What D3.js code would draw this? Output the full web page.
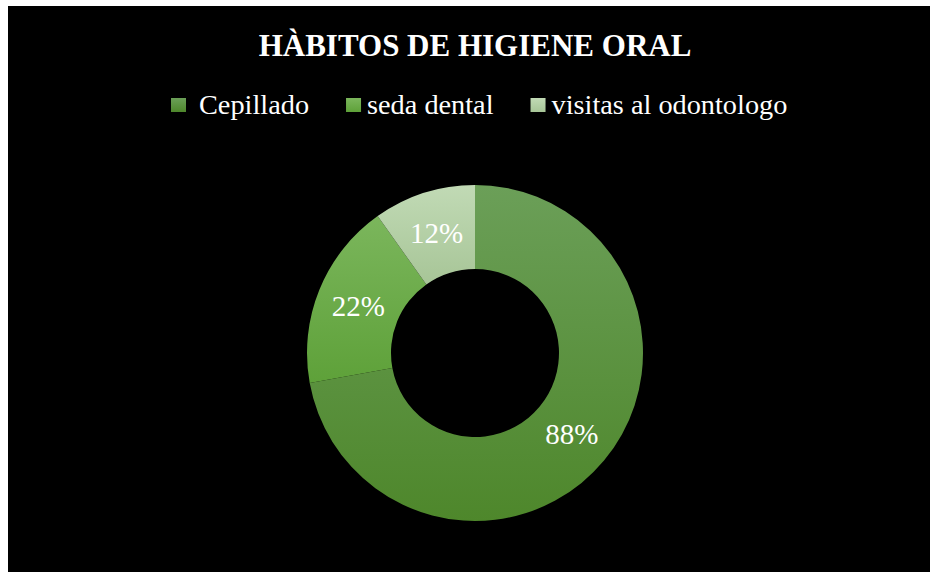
<!DOCTYPE html>
<html>
<head>
<meta charset="utf-8">
<script src="https://cdn.jsdelivr.net/npm/d3@7"></script>
<style>
  body { margin: 0; background: #fff; }
  svg { display: block; }
</style>
</head>
<body>
<div id="chart"></div>
<script>
const title = "HÀBITOS DE HIGIENE ORAL";
const categories = ["Cepillado", "seda dental", "visitas al odontologo"];
const values = [88, 22, 12];
const labels = ["88%", "22%", "12%"];
const colorsTop = ["#6b9f58", "#7bb65c", "#c1dab5"];
const colorsBottom = ["#4e872b", "#5ea139", "#a7c597"];

(function donut() {
  let width = 930,
      height = 572,
      cx = 475,
      cy = 353,
      outerR = 168,
      innerR = 84;

  const svg = d3.select("#chart")
    .append("svg")
    .attr("width", width)
    .attr("height", height);

  svg.append("rect")
    .attr("x", 8)
    .attr("y", 6)
    .attr("width", width - 8)
    .attr("height", height - 6)
    .attr("fill", "#000");

  let defs = svg.append("defs");
  categories.forEach((c, i) => {
    let grad = defs.append("linearGradient")
      .attr("id", "grad" + i)
      .attr("x1", 0).attr("y1", 0)
      .attr("x2", 0).attr("y2", 1);
    grad.append("stop").attr("offset", "0%").attr("stop-color", colorsTop[i]);
    grad.append("stop").attr("offset", "100%").attr("stop-color", colorsBottom[i]);
  });

  svg.append("text")
    .text(title)
    .attr("x", cx)
    .attr("y", 56)
    .attr("text-anchor", "middle")
    .attr("fill", "#fff")
    .style("font-family", "'Liberation Serif', 'Times New Roman', serif")
    .style("font-weight", "bold")
    .style("font-size", "31px");

  // legend, laid out left to right
  let legend = svg.append("g")
    .style("font-family", "'Liberation Serif', 'Times New Roman', serif")
    .style("font-size", "28.3px");

  let lx = 171;
  categories.forEach((c, i) => {
    legend.append("rect")
      .attr("x", lx)
      .attr("y", 98)
      .attr("width", 15)
      .attr("height", 14)
      .attr("fill", `url(#grad${i})`);
    let gap = i === 0 ? 13 : 6;
    let t = legend.append("text")
      .text(c)
      .attr("x", lx + 15 + gap)
      .attr("y", 114)
      .attr("fill", "#fff");
    lx = lx + 15 + gap + t.node().getComputedTextLength() + 37;
  });

  let pie = d3.pie().sort(null).value(d => d);
  let arc = d3.arc().innerRadius(innerR).outerRadius(outerR);

  let g = svg.append("g")
    .attr("transform", `translate(${cx},${cy})`);

  let arcs = pie(values);

  g.selectAll("path")
    .data(arcs)
    .join("path")
    .attr("d", arc)
    .attr("fill", (d, i) => `url(#grad${i})`);

  g.selectAll("text")
    .data(arcs)
    .join("text")
    .text((d, i) => labels[i])
    .attr("x", d => arc.centroid(d)[0])
    .attr("y", d => arc.centroid(d)[1] + 10)
    .attr("text-anchor", "middle")
    .attr("fill", "#fff")
    .style("font-family", "'Liberation Serif', 'Times New Roman', serif")
    .style("font-size", "29px");
})();
</script>
</body>
</html>
